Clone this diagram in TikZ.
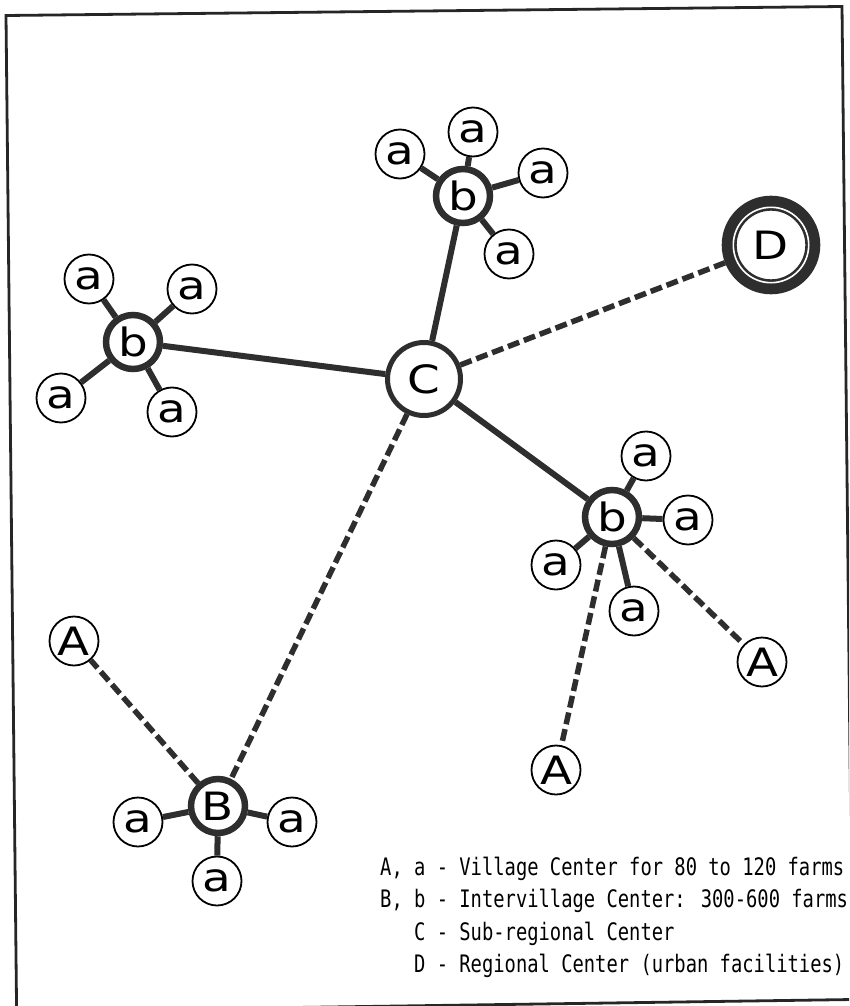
\documentclass[tikz,border=0pt]{standalone}
\usepackage{fontspec}
\newfontfamily\lettering{DejaVu Sans}
\newfontfamily\legendfont{DejaVu Sans Mono}
\newcommand\Ltr[1]{\scalebox{1.2}[1]{#1}}
\newcommand\Lgd[1]{\scalebox{1}[1.28]{#1}}
\definecolor{inkc}{gray}{0.18}
\begin{document}
\begin{tikzpicture}[x=1pt,y=-1pt,
  letters/.style={font=\lettering\fontsize{39}{39}\selectfont, text=black, inner sep=0pt},
  vil/.style={letters, circle, draw=black, line width=1.8pt, minimum size=49pt},
  inter/.style={letters, circle, draw=inkc, line width=6.5pt, minimum size=54pt},
  sub/.style={letters, circle, draw=inkc, line width=5pt, minimum size=73pt},
  reg/.style={letters, circle, draw=inkc, line width=15pt, minimum size=83.6pt},
  link/.style={draw=inkc, line width=6pt},
  dlink/.style={draw=inkc, line width=5.5pt, dash pattern=on 12pt off 5pt},
  legend/.style={font=\legendfont\fontsize{18.8}{20}\selectfont, inner sep=0pt, anchor=base west},
  frame/.style={draw=black!85, line width=2.8pt}
]
\useasboundingbox (0,0) rectangle (849,1006);
\begin{scope}
  \clip (0,0) rectangle (849,1006);
  \draw[frame] (6,15.5) -- (842,6.5) -- (852.6,999.5) -- (16.6,1011.5) -- cycle;
\end{scope}

% centres
\node[sub] (C) at (424,379) {\Ltr{C}};
\node[reg] (D) at (771,245) {\Ltr{D}};
\draw[white, line width=1.6pt] (D.center) circle[radius=37.7pt];

\node[inter] (b1) at (133,342) {\Ltr{b}};
\node[vil] (a11) at (89,279) {\Ltr{a}};
\node[vil] (a12) at (192,289) {\Ltr{a}};
\node[vil] (a13) at (61,398) {\Ltr{a}};
\node[vil] (a14) at (172,412) {\Ltr{a}};

\node[inter] (b2) at (463,196) {\Ltr{b}};
\node[vil] (a21) at (400,154) {\Ltr{a}};
\node[vil] (a22) at (473,132) {\Ltr{a}};
\node[vil] (a23) at (543,173) {\Ltr{a}};
\node[vil] (a24) at (509,254) {\Ltr{a}};

\node[inter] (b3) at (612,517) {\Ltr{b}};
\node[vil] (a31) at (646,456) {\Ltr{a}};
\node[vil] (a32) at (688,520) {\Ltr{a}};
\node[vil] (a33) at (634,611) {\Ltr{a}};
\node[vil] (a34) at (556,565) {\Ltr{a}};
\node[vil] (A2) at (762,662) {\Ltr{A}};
\node[vil] (A3) at (556,770) {\Ltr{A}};

\node[inter] (B) at (218,806) {\Ltr{B}};
\node[vil] (aB1) at (138,822) {\Ltr{a}};
\node[vil] (aB2) at (292,822) {\Ltr{a}};
\node[vil] (aB3) at (217,881) {\Ltr{a}};
\node[vil] (A1) at (74,641) {\Ltr{A}};

% solid links
\path[link] (C) -- (b1);
\path[link] (C) -- (b2);
\path[link] (C) -- (b3);
\foreach \n in {a11,a12,a13,a14} {\path[link] (b1) -- (\n);}
\foreach \n in {a21,a22,a23,a24} {\path[link] (b2) -- (\n);}
\foreach \n in {a31,a32,a33,a34} {\path[link] (b3) -- (\n);}
\foreach \n in {aB1,aB2,aB3} {\path[link] (B) -- (\n);}

% dashed links
\path[dlink] (C) -- (D);
\path[dlink] (C) -- (B);
\path[dlink] (B) -- (A1);
\path[dlink] (b3) -- (A2);
\path[dlink] (b3) -- (A3);

% legend
\node[legend] (L1) at (380,875) {\Lgd{A, a - Village Center for 80 to 120 farms}};
\node[legend] (L2) at (380,907) {\Lgd{B, b - Intervillage Center: 300-600 farms}};
\node[legend] (L3) at (380,940) {\Lgd{\hphantom{A, }C - Sub-regional Center}};
\node[legend] (L4) at (380,972) {\Lgd{\hphantom{A, }D - Regional Center (urban facilities)}};
\end{tikzpicture}
\end{document}
